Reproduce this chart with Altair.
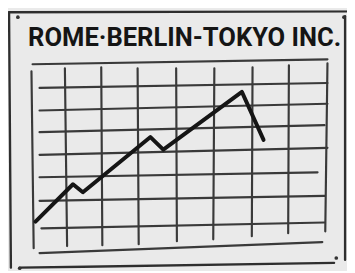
import altair as alt
import pandas as pd

# ---- data (grid units: columns 0..8, rows 0..8) ----
line_x = [0.08, 1.10, 1.37, 3.21, 3.56, 5.70, 6.29]
line_y = [1.22, 2.82, 2.48, 4.84, 4.30, 6.78, 4.72]

# hand-drawn vertical grid lines: top (x, y), bottom (x, y)
vx_top = [-0.03, 0.88, 1.87, 2.86, 3.91, 4.95, 5.99, 6.98, 8.03]
vy_top = [7.66, 7.79, 7.83, 7.79, 7.79, 7.79, 7.83, 7.92, 8.00]
vx_bot = [0.03, 0.94, 1.90, 2.89, 3.93, 4.92, 5.97, 6.96, 7.97]
vy_bot = [0.08, 0.17, 0.21, 0.25, 0.38, 0.46, 0.59, 0.72, 0.80]

# hand-drawn horizontal grid lines: left (x, y), right (x, y)
hx_l = [0.00, 0.19, 0.19, 0.19, 0.19, 0.19, 0.19, 0.24, 0.19]
hy_l = [7.96, 6.95, 5.98, 5.05, 4.08, 3.12, 2.11, 0.93, -0.13]
hx_r = [8.03, 8.03, 8.03, 7.95, 8.03, 7.76, 7.95, 7.95, 7.89]
hy_r = [8.17, 7.16, 6.27, 5.35, 4.38, 3.33, 2.32, 1.18, 0.34]

# outer board frame
fx1 = [-0.64, -0.64, 8.51, -0.35]
fy1 = [10.19, 10.19, 10.02, -0.76]
fx2 = [8.54, -0.59, 8.51, 8.21]
fy2 = [10.23, -0.76, -0.42, -0.55]

# thumbtack dots
tack_x = [-0.40, 8.48, 8.27, -0.35]
tack_y = [9.98, 9.98, -0.34, -0.78]

title_text = ["ROME·BERLIN-TOKYO INC."]
title_x = [4.14]
title_y = [8.76]

X = alt.Scale(domain=[-0.669, 8.562], nice=False, zero=False)
Y = alt.Scale(domain=[-0.8, 10.274], nice=False, zero=False)
noax = dict(axis=None)

vgrid = pd.DataFrame({"x": vx_top, "y": vy_top, "x2": vx_bot, "y2": vy_bot})
hgrid = pd.DataFrame({"x": hx_l, "y": hy_l, "x2": hx_r, "y2": hy_r})
frame = pd.DataFrame({"x": fx1, "y": fy1, "x2": fx2, "y2": fy2})
line = pd.DataFrame({"x": line_x, "y": line_y, "o": list(range(len(line_x)))})
tacks = pd.DataFrame({"x": tack_x, "y": tack_y})
title = pd.DataFrame({"t": title_text, "x": title_x, "y": title_y})

def rules(df, color, width):
    return alt.Chart(df).mark_rule(color=color, strokeWidth=width, strokeCap="round", clip=True).encode(
        x=alt.X("x:Q", scale=X, **noax), y=alt.Y("y:Q", scale=Y, **noax),
        x2="x2:Q", y2="y2:Q")

grid_v = rules(vgrid, "#3a3a3a", 2.2)
grid_h = rules(hgrid, "#3a3a3a", 2.2)
board = rules(frame, "#2e2e2e", 2.4)

ln = alt.Chart(line).mark_line(color="#151515", strokeWidth=4, strokeJoin="round", strokeCap="round").encode(
    x=alt.X("x:Q", scale=X, **noax), y=alt.Y("y:Q", scale=Y, **noax), order="o:Q")

dots = alt.Chart(tacks).mark_point(filled=True, color="#333", size=14, opacity=1).encode(
    x=alt.X("x:Q", scale=X, **noax), y=alt.Y("y:Q", scale=Y, **noax))

txt = alt.Chart(title).mark_text(font="Roboto", fontWeight="bold", fontSize=26,
                                 color="#151515", align="center", baseline="alphabetic").encode(
    x=alt.X("x:Q", scale=X, **noax), y=alt.Y("y:Q", scale=Y, **noax), text="t:N")

chart = alt.layer(board, grid_h, grid_v, ln, dots, txt).properties(
    width=345, height=263, padding=0, background="#eaeaea",
    autosize=alt.AutoSizeParams(type="none")
).configure_view(stroke=None)

chart.save("out.html", embed_options={"renderer": "svg", "actions": False})
